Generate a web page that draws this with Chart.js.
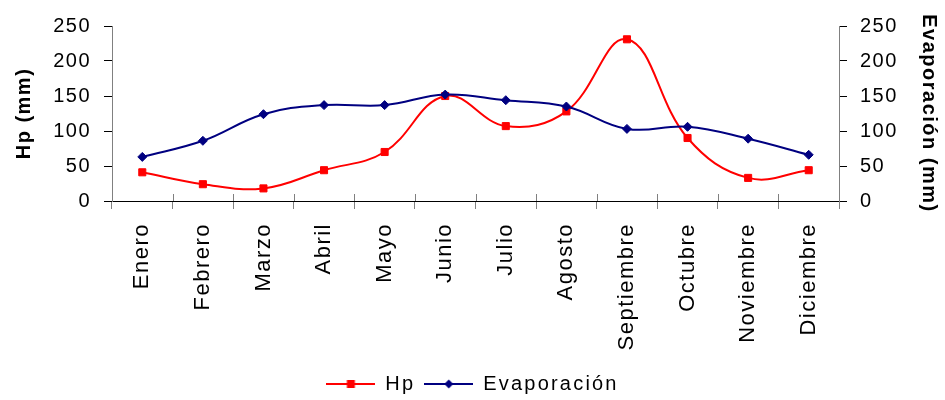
<!DOCTYPE html>
<html>
<head>
<meta charset="utf-8">
<script src="https://cdn.jsdelivr.net/npm/chart.js@4.4.1/dist/chart.umd.min.js"></script>
<style>
  html, body { margin: 0; padding: 0; background: #fff; }
  #wrap { width: 945px; height: 400px; }
</style>
</head>
<body>
<div id="wrap"><canvas id="c" width="945" height="400"></canvas></div>
<script>
// Monthly series
const meses = ['Enero', 'Febrero', 'Marzo', 'Abril', 'Mayo', 'Junio', 'Julio',
               'Agosto', 'Septiembre', 'Octubre', 'Noviembre', 'Diciembre'];
const hp = [41, 24, 18, 44, 70, 150, 107, 128, 231, 90, 33, 44];
const evaporacion = [63, 86, 124, 137, 137, 152, 144, 135, 103, 106, 89, 66];
const yMin = 0, yMax = 250, yStep = 50;

const FONT = '"Liberation Sans", Arial, sans-serif';
const RED = '#FF0000';
const NAVY = '#000080';
const SPACING = '1.5px';
const LEGEND_SPACING = '2.2px';

// Small legend swatches: a line with the series marker in its middle
function swatch(color, shape) {
  const c = document.createElement('canvas');
  c.width = 49; c.height = 12;
  const g = c.getContext('2d');
  g.strokeStyle = color; g.lineWidth = 2;
  g.beginPath(); g.moveTo(0, 6); g.lineTo(49, 6); g.stroke();
  g.fillStyle = color;
  if (shape === 'square') {
    g.fillRect(20.5, 2, 8, 8);
  } else {
    g.beginPath();
    g.moveTo(24.5, 1.5); g.lineTo(29, 6); g.lineTo(24.5, 10.5); g.lineTo(20, 6);
    g.closePath(); g.fill();
  }
  return c;
}

// Wider letter spacing for all text, a bit wider for the legend
const spacing = {
  id: 'spacing',
  beforeUpdate(chart) {
    chart.ctx.letterSpacing = SPACING;
    const lg = chart.legend;
    if (lg && !lg._spaced) {
      lg._spaced = true;
      ['fit', 'draw'].forEach(fn => {
        const orig = lg[fn].bind(lg);
        lg[fn] = function (...args) {
          chart.ctx.letterSpacing = LEGEND_SPACING;
          const r = orig(...args);
          chart.ctx.letterSpacing = SPACING;
          return r;
        };
      });
    }
  },
  beforeDraw(chart) {
    chart.ctx.letterSpacing = SPACING;
  }
};

// Category boundary ticks also reach a little above the x axis line
const crossTicks = {
  id: 'crossTicks',
  afterDraw(chart) {
    const x = chart.scales.x;
    const ctx = chart.ctx;
    ctx.save();
    ctx.strokeStyle = '#808080';
    ctx.lineWidth = 1;
    for (let i = 0; i <= meses.length; i++) {
      const px = Math.round(x.getPixelForValue(i - 0.5)) + 0.5;
      ctx.beginPath();
      ctx.moveTo(px, x.top - 7);
      ctx.lineTo(px, x.top);
      ctx.stroke();
    }
    ctx.restore();
  }
};

new Chart(document.getElementById('c'), {
  type: 'line',
  data: {
    labels: meses,
    datasets: [
      {
        label: 'Hp',
        data: hp,
        yAxisID: 'y',
        borderColor: RED,
        backgroundColor: RED,
        borderWidth: 2,
        pointStyle: 'rect',
        pointRadius: 5,
        pointBorderWidth: 1,
        tension: 0.4,
        order: 1
      },
      {
        label: 'Evaporación',
        data: evaporacion,
        yAxisID: 'y1',
        borderColor: NAVY,
        backgroundColor: NAVY,
        borderWidth: 2,
        pointStyle: 'rectRot',
        pointRadius: 4.5,
        pointBorderWidth: 1,
        tension: 0.4,
        order: 0
      }
    ]
  },
  plugins: [spacing, crossTicks],
  options: {
    responsive: false,
    animation: false,
    devicePixelRatio: 1,
    layout: { padding: { top: 26, left: 0, right: 0, bottom: -4 } },
    plugins: {
      tooltip: { enabled: false },
      legend: {
        position: 'bottom',
        labels: {
          usePointStyle: true,
          pointStyleWidth: 49,
          padding: 9,
          color: '#000',
          font: { family: FONT, size: 20 },
          generateLabels(chart) {
            return chart.data.datasets.map((ds, i) => ({
              text: ds.label,
              datasetIndex: i,
              fillStyle: ds.borderColor,
              strokeStyle: ds.borderColor,
              lineWidth: 0,
              fontColor: '#000',
              pointStyle: swatch(ds.borderColor, i === 0 ? 'square' : 'diamond'),
              hidden: false
            }));
          }
        }
      }
    },
    scales: {
      x: {
        type: 'category',
        offset: true,
        afterFit: s => { s.height = 164; },
        grid: {
          offset: true,
          drawOnChartArea: false,
          drawTicks: true,
          tickLength: 8,
          color: '#808080'
        },
        border: { display: true, color: '#000', width: 1 },
        ticks: {
          minRotation: 90,
          maxRotation: 90,
          autoSkip: false,
          padding: 14,
          color: '#000',
          font: { family: FONT, size: 22 }
        }
      },
      y: {
        position: 'left',
        min: yMin, max: yMax,
        afterFit: s => { s.width = 112; },
        grid: { drawOnChartArea: false, drawTicks: true, tickLength: 8, color: '#000' },
        border: { display: true, color: '#808080', width: 1 },
        ticks: {
          stepSize: yStep,
          padding: 13,
          color: '#000',
          font: { family: FONT, size: 20 }
        },
        title: {
          display: true,
          text: 'Hp (mm)',
          color: '#000',
          font: { family: FONT, size: 20, weight: 'bold' },
          padding: { top: 12, bottom: 0 }
        }
      },
      y1: {
        position: 'right',
        min: yMin, max: yMax,
        afterFit: s => { s.width = 106; },
        grid: { drawOnChartArea: false, drawTicks: true, tickLength: 8, color: '#000' },
        border: { display: true, color: '#808080', width: 1 },
        ticks: {
          stepSize: yStep,
          padding: 13,
          color: '#000',
          font: { family: FONT, size: 20 }
        },
        title: {
          display: true,
          text: 'Evaporación (mm)',
          color: '#000',
          font: { family: FONT, size: 20, weight: 'bold' },
          padding: { top: 4, bottom: 2 }
        }
      }
    }
  }
});
</script>
</body>
</html>
